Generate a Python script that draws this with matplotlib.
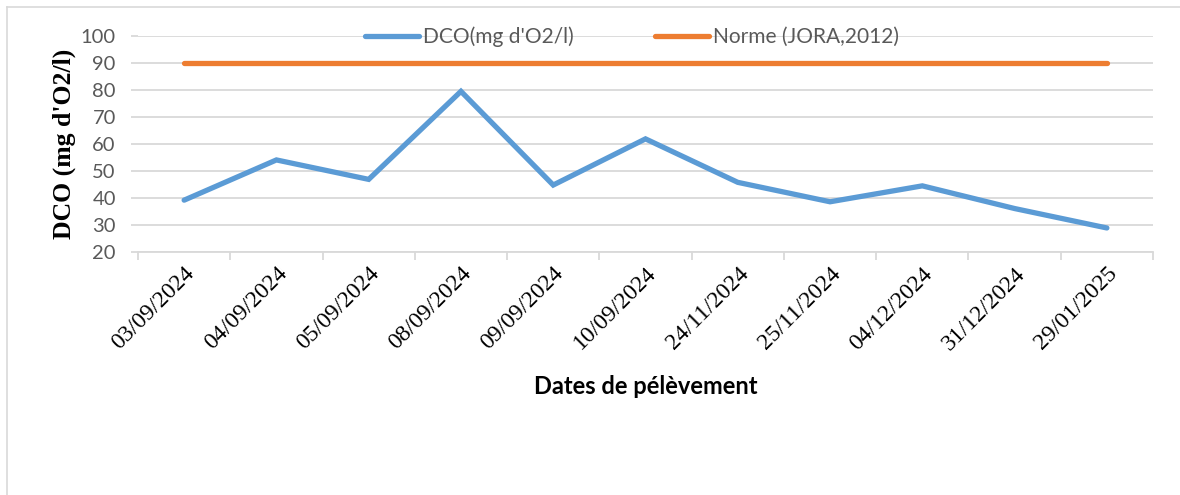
import matplotlib
matplotlib.use("Agg")
import matplotlib.pyplot as plt
from matplotlib.lines import Line2D
import numpy as np

# Data
dates = ["03/09/2024", "04/09/2024", "05/09/2024", "08/09/2024", "09/09/2024",
         "10/09/2024", "24/11/2024", "25/11/2024", "04/12/2024", "31/12/2024",
         "29/01/2025"]
dco = [39.2, 54.1, 46.9, 79.5, 44.8, 61.9, 45.8, 38.6, 44.5, 36.1, 28.9]
norme = [90] * len(dates)
yticks = [20, 30, 40, 50, 60, 70, 80, 90, 100]

W, H = 1180, 495
fig = plt.figure(figsize=(W / 100, H / 100), dpi=100)
fig.patch.set_facecolor("white")

# outer chart border (top and left visible)
fig.add_artist(Line2D([7 / W, 1.0], [1 - 7 / H, 1 - 7 / H], color="#d9d9d9", lw=1.2))
fig.add_artist(Line2D([7 / W, 7 / W], [0, 1 - 7 / H], color="#d9d9d9", lw=1.2))

left, right, top, bottom = 138, 1153, 36, 252
ax = fig.add_axes([left / W, 1 - bottom / H, (right - left) / W, (bottom - top) / H])

x = np.arange(len(dates))
grid_c = "#d9d9d9"
ax.plot(x, dco, color="#5b9bd5", lw=3.8, solid_capstyle="round",
        solid_joinstyle="miter", label="DCO(mg d'O2/l)", zorder=3)
ax.plot(x, norme, color="#ed7d31", lw=3.8, solid_capstyle="round",
        label="Norme (JORA,2012)", zorder=3)

ax.set_xlim(-0.5, len(dates) - 0.5)
ax.set_ylim(20, 100)
ax.set_yticks(yticks)
ax.yaxis.grid(True, color=grid_c, lw=1.3)
ax.set_axisbelow(True)
for s in ["left", "right", "top"]:
    ax.spines[s].set_visible(False)
ax.spines["bottom"].set_color(grid_c)
ax.spines["bottom"].set_linewidth(1.3)

ax.tick_params(axis="y", length=5, width=1.3, color=grid_c, pad=11,
               labelsize=14.5, labelcolor="#595959")
for lab in ax.get_yticklabels():
    lab.set_fontfamily("Lato")

ax.set_xticks(x)
ax.set_xticklabels(dates, rotation=45, ha="right", rotation_mode="anchor",
                   fontfamily="Liberation Serif", fontsize=17, color="black")
ax.tick_params(axis="x", which="major", length=0, pad=8)
ax.set_xticks(np.arange(-0.5, len(dates)), minor=True)
ax.tick_params(axis="x", which="minor", length=6, width=1.3, color=grid_c)

ax.set_ylabel("DCO (mg d'O2/l)", fontfamily="Liberation Serif", fontweight="bold",
              fontsize=18.5, color="black")
ax.yaxis.set_label_coords((76 - left) / (right - left), 0.5)

fig.text(646 / W, 1 - 387 / H, "Dates de pélèvement", fontfamily="Lato",
         fontweight="bold", fontsize=17, ha="center", va="center", color="black")

leg = ax.legend(loc="center", bbox_to_anchor=(632 / W, 1 - 37 / H),
                bbox_transform=fig.transFigure, ncol=2, frameon=False,
                prop={"family": "Lato", "size": 15}, handlelength=2.6,
                handletextpad=0.18, columnspacing=3.9, borderpad=0)
for t in leg.get_texts():
    t.set_color("#595959")

fig.savefig("out.png", dpi=100, facecolor="white")
